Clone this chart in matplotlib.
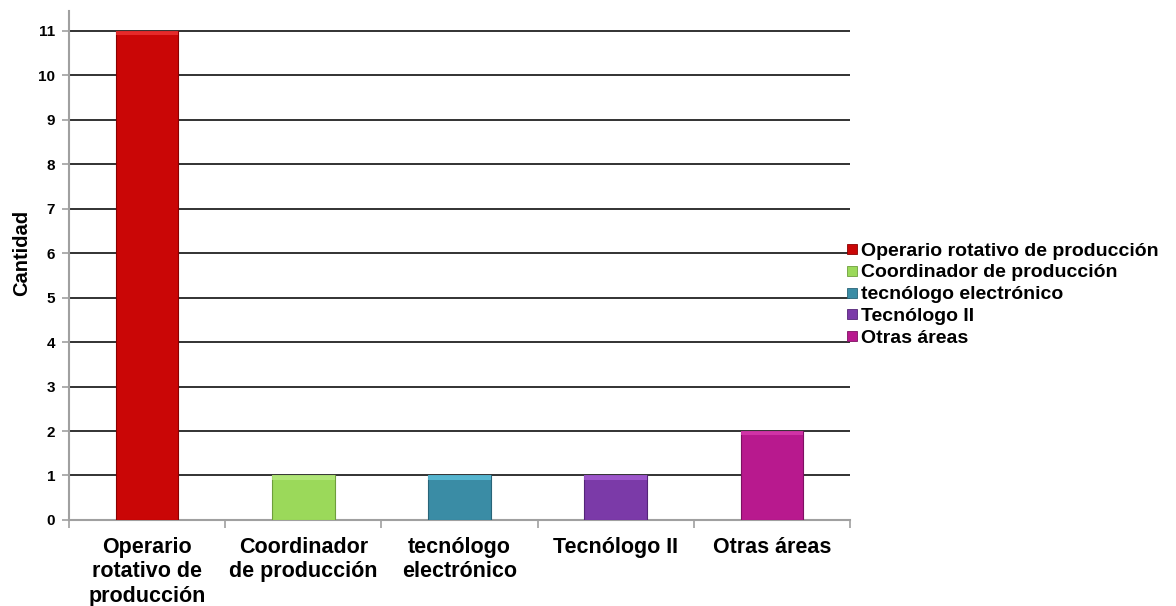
import matplotlib
matplotlib.use("Agg")
import matplotlib.pyplot as plt
from matplotlib.patches import Rectangle
from matplotlib.lines import Line2D
from matplotlib.ticker import FixedLocator

plt.rcParams['font.family'] = ['Liberation Sans', 'DejaVu Sans']

categories = ["Operario\nrotativo de\nproducción", "Coordinador\nde producción",
              "tecnólogo\nelectrónico", "Tecnólogo II", "Otras áreas"]
legend_labels = ["Operario rotativo de producción", "Coordinador de producción",
                 "tecnólogo electrónico", "Tecnólogo II", "Otras áreas"]
values = [11, 1, 1, 1, 2]
colors = ["#CA0606", "#9BD95A", "#3A8CA5", "#7B3AA8", "#B8198E"]
top_colors = ["#EE3434", "#B6EA7E", "#5CC0DA", "#A65ED4", "#D83AAE"]
edge_colors = ["#8A0000", "#6E9E3C", "#286478", "#542578", "#7E1062"]
y_ticks = list(range(0, 12))

fig = plt.figure(figsize=(11.76, 6.06), dpi=100)
ax = fig.add_axes([0.0587, 0.142, 0.664, 0.84])

x = range(len(categories))
bar_w = 0.4
bars = ax.bar(x, values, width=bar_w, color=colors, edgecolor=edge_colors,
              linewidth=0.8, zorder=3)
# light bevel strip along the top of each bar
for b, tc in zip(bars, top_colors):
    h = 0.1
    ax.add_patch(Rectangle((b.get_x(), b.get_height() - h), b.get_width(), h,
                           facecolor=tc, edgecolor="none", zorder=4, alpha=0.8))

ax.set_xlim(-0.5, len(categories) - 0.5)
ax.set_ylim(0, 11.45)
ax.set_yticks(y_ticks)
ax.yaxis.grid(True, color="#222222", linewidth=1.3, zorder=1)
ax.set_axisbelow(True)

ax.set_xticks(list(x))
ax.set_xticklabels(categories, fontsize=15.5, fontweight="bold", linespacing=1.22)
ax.tick_params(axis="x", which="major", length=0, pad=12)
ax.xaxis.set_minor_locator(FixedLocator([i - 0.5 for i in range(len(categories) + 1)]))
ax.tick_params(axis="x", which="minor", length=6, color="#A0A0A0", width=1.2)
ax.tick_params(axis="y", length=5, color="#A0A0A0", width=1.2, labelsize=11, pad=5)
for lbl in ax.get_yticklabels():
    lbl.set_fontweight("bold")

for s in ["top", "right"]:
    ax.spines[s].set_visible(False)
for s in ["left", "bottom"]:
    ax.spines[s].set_color("#A0A0A0")
    ax.spines[s].set_linewidth(1.5)

ax.set_ylabel("Cantidad", fontsize=14.5, fontweight="bold")
ax.yaxis.set_label_coords(-0.048, 0.525)

handles = [Line2D([], [], linestyle="none", marker="s", markersize=6.5,
                  markerfacecolor=c, markeredgecolor=e, markeredgewidth=0.6)
           for c, e in zip(colors, edge_colors)]
fig.legend(handles, legend_labels, loc="center left", bbox_to_anchor=(0.706, 0.514),
           frameon=False, handlelength=0.45, handletextpad=0.25, labelspacing=0.22,
           prop={"size": 14, "weight": "bold"})

fig.savefig("out.png", dpi=100)
